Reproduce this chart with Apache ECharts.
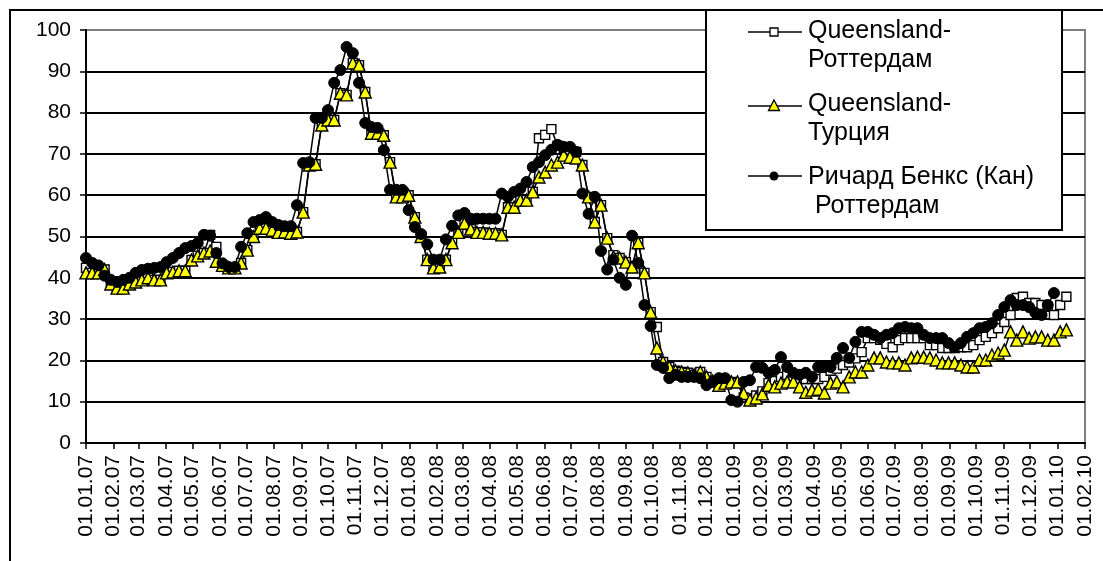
<!DOCTYPE html>
<html>
<head>
<meta charset="utf-8">
<script src="https://cdn.jsdelivr.net/npm/echarts@6/dist/echarts.min.js"></script>
<style>
html, body { margin: 0; padding: 0; background: #fff; }
#chart { width: 1103px; height: 561px; }
</style>
</head>
<body>
<div id="chart"></div>
<script>
// Month tick labels along the date axis (dd.mm.yy)
const monthLabels = [
  '01.01.07','01.02.07','01.03.07','01.04.07','01.05.07','01.06.07','01.07.07','01.08.07','01.09.07','01.10.07','01.11.07','01.12.07',
  '01.01.08','01.02.08','01.03.08','01.04.08','01.05.08','01.06.08','01.07.08','01.08.08','01.09.08','01.10.08','01.11.08','01.12.08',
  '01.01.09','01.02.09','01.03.09','01.04.09','01.05.09','01.06.09','01.07.09','01.08.09','01.09.09','01.10.09','01.11.09','01.12.09',
  '01.01.10','01.02.10'
];

// Weekly quotes, first week starting 01.01.07
const firstWeek = '01.01.07';
const seriesNames = ['Queensland-\nРоттердам', 'Queensland-\nТурция', 'Ричард Бенкс (Кан)\n Роттердам'];

const queenslandRotterdam = [
  42.4, 41.2, 41.2, 42, 38.5, 37.5, 37.5, 38.5, 39, 39.5,
  40, 39.5, 39.5, 41.2, 41.4, 41.7, 41.7, 44.3, 45.3, 46,
  50.4, 47.5, 43, 42.4, 42.4, 43.6, 46.7, 50, 52, 52,
  51.5, 51, 51.1, 50.8, 51.1, 55.9, 67.3, 67.5, 77, 78.2,
  78.2, 84.7, 84.3, 92, 91.5, 85, 75, 75, 74.5, 68,
  59.6, 59.6, 60, 54.7, 50, 44.4, 42.4, 42.6, 44.4, 48.5,
  51, 53.2, 51.8, 51, 51, 50.8, 50.8, 50.4, 57.1, 57.1,
  58.8, 58.8, 60.8, 73.8, 74.6, 76, 72, 71.5, 71, 70.5,
  67.3, 59.6, 53.5, 57.6, 49.6, 45.5, 44.8, 43.8, 42.6, 48.5,
  41.2, 31.7, 28.1, 19.6, 18.4, 17.5, 17.2, 17, 16.5, 17.2,
  16, 15, 14, 14.5, 14.8, 14.5, 11, 10.8, 11.5, 12.5,
  14.5, 15, 16, 16.5, 16, 15.5, 15.5, 15.5, 15.5, 16,
  17.5, 18, 18.9, 19.5, 20.5, 22, 25.4, 25.4, 25, 24,
  23.2, 24.9, 25.4, 25.4, 25.4, 25.4, 23.7, 23.7, 23, 23,
  23, 23.2, 23.2, 23.7, 24.9, 25.7, 26.6, 27.8, 29.3, 31,
  35.1, 35.4, 33.9, 33.9, 33.4, 33, 31, 33.4, 35.4
];

const queenslandTurkey = [
  41.2, 41.2, 41.2, 42, 38.5, 37.5, 37.5, 38.5, 39, 39.5,
  40, 39.5, 39.5, 41.2, 41.4, 41.7, 41.7, 44.3, 45.3, 46,
  46.5, 44, 43, 42.4, 42.4, 43.6, 46.7, 50, 52, 52,
  51.5, 51, 51.1, 50.8, 51.1, 55.9, 67.3, 67.5, 77, 78.2,
  78.2, 84.7, 84.3, 92, 91.5, 85, 75, 75, 74.5, 68,
  59.6, 59.6, 60, 54.7, 50, 44.4, 42.4, 42.6, 44.4, 48.5,
  51, 53.2, 51.8, 51, 51, 50.8, 50.8, 50.4, 57.1, 57.1,
  58.8, 58.8, 60.8, 64.4, 65.6, 67.3, 68, 69.7, 69.2, 69,
  67.3, 59.6, 53.5, 57.6, 49.6, 45, 44.8, 43.8, 42.6, 48.5,
  41.2, 31.7, 23, 19.6, 18.4, 17.5, 17.2, 17, 16.5, 17.2,
  16, 15, 14, 14.5, 14.8, 14.8, 12, 10.4, 10.9, 11.9,
  14, 13.6, 14.5, 14.8, 14.8, 13.6, 12.3, 12.8, 13, 12.1,
  14.5, 14.8, 13.6, 16, 17.2, 17.2, 18.9, 20.6, 20.6, 19.6,
  19.4, 19.4, 18.9, 20.6, 20.8, 20.8, 20.6, 20.1, 19.4, 19.4,
  19.4, 18.9, 18.4, 18.4, 20.1, 20.1, 21.3, 21.8, 22.5, 26.9,
  24.9, 26.9, 25.4, 25.7, 25.7, 24.9, 24.9, 26.9, 27.4
];

const banksRotterdam = [
  44.8, 43.6, 43, 40.5, 39.5, 39, 39.5, 40, 41.2, 41.9,
  42.2, 42.4, 42.6, 43.8, 44.8, 46, 47.2, 47.7, 48.4, 50.4,
  50.2, 46, 43.5, 42.6, 42.6, 47.5, 50.8, 53.5, 54, 54.7,
  53.5, 52.8, 52.5, 52.5, 57.6, 67.8, 68, 78.7, 78.7, 80.6,
  87.2, 90.3, 95.9, 94.4, 87.2, 77.5, 76.5, 76.3, 70.9, 61.3,
  61.3, 61.3, 56.4, 52.3, 50.6, 48.1, 44.4, 44.4, 49.3, 52.6,
  55.1, 55.7, 54.3, 54.3, 54.3, 54.3, 54.3, 60.4, 59.6, 60.8,
  61.6, 63.2, 66.8, 68, 69.7, 71, 72.2, 71.7, 71.7, 70.5,
  60.4, 55.5, 59.6, 46.5, 42, 44.4, 40, 38.3, 50.2, 43.6,
  33.4, 28.3, 18.9, 18.2, 15.7, 16.5, 16, 16, 16, 15.7,
  14, 14.8, 15.7, 15.7, 10.4, 10, 14.8, 15.2, 18.4, 18.2,
  17, 17.7, 20.8, 18.4, 17, 16.5, 17, 16, 18.4, 18.4,
  18.4, 20.6, 23, 20.6, 24.5, 26.9, 26.9, 26.2, 25.4, 26.2,
  26.6, 27.8, 28.1, 27.8, 27.8, 26.2, 25.4, 25.4, 25.4, 24.2,
  23.2, 24.2, 25.7, 26.6, 27.8, 28.1, 29, 31, 32.9, 34.6,
  33.4, 33.4, 32.9, 31.5, 31, 33.4, 36.3
];

const yTickStep = 10;

// "dd.mm.yy" -> days since the first week
const DAY = 86400000;
function toUtc(label) {
  const [d, m, y] = label.split('.').map(Number);
  return Date.UTC(2000 + y, m - 1, d);
}
const origin = toUtc(firstWeek);
const dayOf = label => Math.round((toUtc(label) - origin) / DAY);
const monthDays = monthLabels.map(dayOf);
const labelByDay = {};
monthLabels.forEach((l, i) => { labelByDay[monthDays[i]] = l; });

const weekly = values => values.map((v, i) => [i * 7, v]);

const FONT = '"Liberation Sans", Arial, sans-serif';

const lineStyle = { color: '#000', width: 1.5 };

const chart = echarts.init(document.getElementById('chart'), null, { renderer: 'canvas' });

const splitColors = [];
for (let v = 0; v <= 100; v += yTickStep) splitColors.push(v === 100 ? '#808080' : '#000');

const legendText = (text, y) => ({
  type: 'text', x: 808, y: y,
  style: { text: text, fontSize: 25, lineHeight: 29, fontFamily: FONT, fill: '#000', verticalAlign: 'top' },
  z: 22
});
const legendLine = y => ({
  type: 'line', shape: { x1: 748, y1: y, x2: 802, y2: y },
  style: { stroke: '#000', lineWidth: 1.5 }, z: 21
});

chart.setOption({
  animation: false,
  backgroundColor: '#fff',
  grid: {
    left: 86, right: 18, top: 30, bottom: 118,
    show: true, borderColor: '#808080', borderWidth: 2,
    outerBoundsMode: 'none', containLabel: false
  },
  xAxis: {
    type: 'value',
    min: monthDays[0],
    max: monthDays[monthDays.length - 1],
    splitLine: { show: false },
    axisLine: { show: true, onZero: false, lineStyle: { color: '#000', width: 2 } },
    axisTick: { show: true, customValues: monthDays, length: 6, lineStyle: { color: '#000', width: 1.5 } },
    axisLabel: {
      customValues: monthDays,
      rotate: 90,
      margin: 12,
      color: '#000',
      fontSize: 21,
      fontFamily: FONT,
      formatter: v => labelByDay[v] || ''
    }
  },
  yAxis: {
    type: 'value',
    min: 0, max: 100, interval: yTickStep,
    axisLine: { show: true, lineStyle: { color: '#000', width: 2 } },
    axisTick: { show: true, length: 6, lineStyle: { color: '#000', width: 1.5 } },
    axisLabel: { color: '#000', fontSize: 21, fontFamily: FONT, margin: 15 },
    splitLine: { show: true, lineStyle: { color: splitColors, width: 2 } }
  },
  series: [
    {
      name: seriesNames[0], type: 'line', data: weekly(queenslandRotterdam),
      symbol: 'rect', symbolSize: 9, showAllSymbol: true,
      lineStyle: lineStyle,
      itemStyle: { color: '#fff', borderColor: '#000', borderWidth: 1.4 }
    },
    {
      name: seriesNames[1], type: 'line', data: weekly(queenslandTurkey),
      symbol: 'triangle', symbolSize: 12, showAllSymbol: true,
      lineStyle: lineStyle,
      itemStyle: { color: '#ffff00', borderColor: '#000', borderWidth: 1.4 }
    },
    {
      name: seriesNames[2], type: 'line', data: weekly(banksRotterdam),
      symbol: 'circle', symbolSize: 11, showAllSymbol: true,
      lineStyle: lineStyle,
      itemStyle: { color: '#000', borderColor: '#000', borderWidth: 1 }
    }
  ],
  graphic: [
    // outer frame
    { type: 'line', shape: { x1: 9, y1: 10, x2: 1103, y2: 10 }, style: { stroke: '#000', lineWidth: 2 }, z: 20 },
    { type: 'line', shape: { x1: 10, y1: 9, x2: 10, y2: 561 }, style: { stroke: '#000', lineWidth: 2 }, z: 20 },
    // legend box
    { type: 'rect', shape: { x: 706, y: 10, width: 356, height: 220 }, style: { fill: '#fff', stroke: '#000', lineWidth: 2 }, z: 20 },
    legendLine(32),
    { type: 'rect', shape: { x: 770, y: 28, width: 8, height: 8 }, style: { fill: '#fff', stroke: '#000', lineWidth: 1.3 }, z: 22 },
    legendText(seriesNames[0], 17),
    legendLine(106),
    { type: 'polygon', shape: { points: [[774, 100], [779.5, 110.5], [768.5, 110.5]] }, style: { fill: '#ffff00', stroke: '#000', lineWidth: 1.3 }, z: 22 },
    legendText(seriesNames[1], 90),
    legendLine(176),
    { type: 'circle', shape: { cx: 774, cy: 176, r: 4.5 }, style: { fill: '#000' }, z: 22 },
    legendText(seriesNames[2], 163)
  ]
});
</script>
</body>
</html>
